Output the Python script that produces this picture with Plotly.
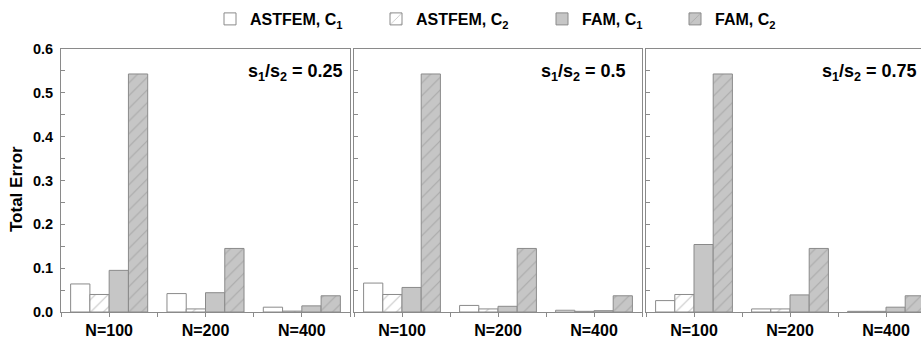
import plotly.graph_objects as go

categories = ["N=100", "N=200", "N=400"]
series_names = ["ASTFEM, C<sub>1</sub>", "ASTFEM, C<sub>2</sub>", "FAM, C<sub>1</sub>", "FAM, C<sub>2</sub>"]
panel_labels = ["s<sub>1</sub>/s<sub>2</sub> = 0.25", "s<sub>1</sub>/s<sub>2</sub> = 0.5", "s<sub>1</sub>/s<sub>2</sub> = 0.75"]

# values per panel (ratio 0.25, 0.5, 0.75), per series
astfem_c1 = [[0.064, 0.042, 0.011], [0.066, 0.015, 0.004], [0.026, 0.007, 0.0015]]
astfem_c2 = [[0.040, 0.007, 0.002], [0.040, 0.007, 0.0015], [0.040, 0.007, 0.0015]]
fam_c1 = [[0.095, 0.044, 0.014], [0.056, 0.013, 0.003], [0.154, 0.039, 0.011]]
fam_c2 = [[0.543, 0.145, 0.037], [0.543, 0.145, 0.037], [0.543, 0.145, 0.037]]
series_values = [astfem_c1, astfem_c2, fam_c1, fam_c2]

yticks = [0.0, 0.1, 0.2, 0.3, 0.4, 0.5, 0.6]
ytick_text = ["0.0", "0.1", "0.2", "0.3", "0.4", "0.5", "0.6"]

FONT = "Liberation Sans, Arial, sans-serif"
AX = "#8a8a8a"
GRAY = "#c6c6c6"
fills = ["white", "white", GRAY, GRAY]
patterns = ["", "/", "", "/"]

W, H = 921, 338
ML, MR, MT, MB = 61, 0, 49, 26
PW = W - ML - MR

def frac(px):
    return (px - ML) / PW

domains = [[frac(61), frac(350)], [frac(354), frac(642)], [frac(646), 1.0]]
px_per_unit = 96.0
ranges = [[-0.5, 2.5], [-0.5, 2.5], [-0.5, -0.5 + (921 - 646) / px_per_unit]]

fig = go.Figure()
xpos = list(range(len(categories)))

legend_text_x = [250, 416, 582, 715]

for p in range(3):
    xa = "x" if p == 0 else f"x{p+1}"
    ya = "y" if p == 0 else f"y{p+1}"
    for s in range(4):
        fig.add_trace(go.Bar(
            x=xpos, y=series_values[s][p], name=series_names[s],
            xaxis=xa, yaxis=ya,
            marker=dict(color=fills[s], line=dict(color=AX, width=1),
                        pattern=dict(shape=patterns[s], fgcolor="#8c8c8c", size=9, solidity=0.12)),
            showlegend=(p == 0),
            legend=("legend" if s == 0 else f"legend{s+1}"),
            hoverinfo="skip",
        ))

layout = dict(
    width=W, height=H,
    margin=dict(l=ML, r=MR, t=MT, b=MB, autoexpand=False),
    paper_bgcolor="white", plot_bgcolor="white",
    barmode="group", bargap=0.2, bargroupgap=0,
    font=dict(family=FONT, size=16, color="black", weight="bold"),
)

for p in range(3):
    xk = "xaxis" if p == 0 else f"xaxis{p+1}"
    yk = "yaxis" if p == 0 else f"yaxis{p+1}"
    layout[xk] = dict(
        domain=domains[p], range=ranges[p], anchor=("y" if p == 0 else f"y{p+1}"),
        tickmode="array", tickvals=xpos, ticktext=categories,
        ticks="outside", ticklen=4, tickcolor=AX,
        minor=dict(dtick=0.5, tick0=0, ticks="outside", ticklen=4, tickcolor=AX),
        showline=True, linecolor=AX, linewidth=1, mirror=True,
        showgrid=False, zeroline=False, fixedrange=True,
        tickfont=dict(family=FONT, size=16, weight="bold", color="black"),
    )
    layout[yk] = dict(
        domain=[0, 1], range=[0, 0.6], anchor=("x" if p == 0 else f"x{p+1}"),
        tickmode="array", tickvals=yticks, ticktext=ytick_text,
        showticklabels=(p == 0), ticklabelstandoff=4,
        ticks="inside", ticklen=4, tickcolor=AX,
        minor=dict(dtick=0.05, tick0=0, ticks="inside", ticklen=4, tickcolor=AX),
        showline=True, linecolor=AX, linewidth=1, mirror=(p < 2),
        showgrid=False, zeroline=False, fixedrange=True,
        tickfont=dict(family=FONT, size=14.5, weight="bold", color="black"),
    )

for s in range(4):
    lk = "legend" if s == 0 else f"legend{s+1}"
    layout[lk] = dict(
        orientation="h", xref="container", yref="container",
        x=(legend_text_x[s] - 40) / W, xanchor="left",
        y=1 - 19 / H, yanchor="middle",
        bgcolor="rgba(0,0,0,0)", borderwidth=0,
        font=dict(family=FONT, size=16, weight="bold", color="black"),
    )

fig.update_layout(**layout)

xshifts = [-5, -14, -2]
for p in range(3):
    xr = "x domain" if p == 0 else f"x{p+1} domain"
    yr = "y domain" if p == 0 else f"y{p+1} domain"
    fig.add_annotation(text=panel_labels[p], xref=xr, yref=yr, x=1, y=(312 - 72) / 263,
                       xanchor="right", yanchor="middle", xshift=xshifts[p], showarrow=False,
                       font=dict(family=FONT, size=18, weight="bold", color="black"))

fig.add_annotation(text="Total Error", xref="paper", yref="paper", x=(16 - ML) / PW,
                   y=(312 - 189) / 263, textangle=-90, showarrow=False,
                   xanchor="center", yanchor="middle",
                   font=dict(family=FONT, size=17, weight="bold", color="black"))

fig.write_html("out.html", config={"displayModeBar": False},
               post_script="document.body.style.margin='0';document.body.style.overflow='hidden';")
